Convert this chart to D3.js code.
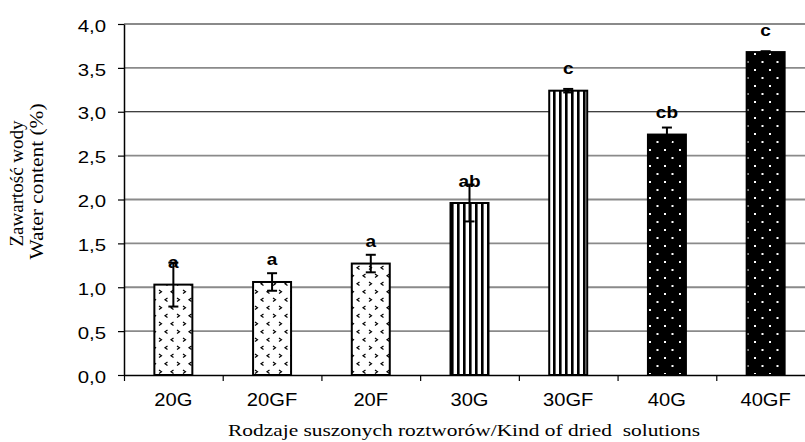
<!DOCTYPE html>
<html>
<head>
<meta charset="utf-8">
<script src="https://cdn.jsdelivr.net/npm/d3@7"></script>
<style>
  html, body { margin: 0; padding: 0; background: #fff; }
  svg { display: block; }
</style>
</head>
<body>
<svg id="chart" width="805" height="442"></svg>
<script>
// Water content of dried solutions, mean ± error with group letters
const categories = ["20G", "20GF", "20F", "30G", "30GF", "40G", "40GF"];
const values     = [1.03, 1.06, 1.27, 1.96, 3.24, 2.74, 3.68];
const errors     = [0.25, 0.10, 0.10, 0.21, 0.02, 0.08, 0.01];
const letters    = ["a", "a", "a", "ab", "c", "cb", "c"];
const series     = ["20", "20", "20", "30", "30", "40", "40"];
const yTicks     = [0, 0.5, 1.0, 1.5, 2.0, 2.5, 3.0, 3.5, 4.0];

const sans = "'Liberation Sans', Arial, sans-serif";
const serif = "'Liberation Serif', 'Times New Roman', serif";

const svg = d3.select("#chart");
const plotLeft = 124, plotRight = 815, plotTop = 24, plotBottom = 375;

const x = d3.scaleBand().domain(categories).range([plotLeft, plotRight])
  .paddingInner(0.595).paddingOuter(0.2975);
const xEdge = d3.scaleLinear().domain([0, categories.length]).range([plotLeft, plotRight]);
const y = d3.scaleLinear().domain([0, 4]).range([plotBottom, plotTop]);

// fill patterns for the three concentration groups
const defs = svg.append("defs");

const pDots = defs.append("pattern").attr("id", "p20")
  .attr("patternUnits", "userSpaceOnUse").attr("width", 24).attr("height", 16);
pDots.append("rect").attr("width", 24).attr("height", 16).attr("fill", "#fff");
const chev = [
  [3, 2, "<"], [15, 2, ">"], [9, 10, ">"], [21, 10, "<"]
];
chev.forEach(([cx, cy, k]) => {
  const d = k === "<"
    ? `M${cx + 2.5},${cy} L${cx},${cy + 1.8} L${cx + 2.5},${cy + 3.6}`
    : `M${cx},${cy} L${cx + 2.5},${cy + 1.8} L${cx},${cy + 3.6}`;
  pDots.append("path").attr("d", d).attr("fill", "none")
    .attr("stroke", "#000").attr("stroke-width", 1.2);
});

const pStripe = defs.append("pattern").attr("id", "p30")
  .attr("patternUnits", "userSpaceOnUse").attr("width", 6).attr("height", 6)
  .attr("x", 1);
pStripe.append("rect").attr("width", 6).attr("height", 6).attr("fill", "#fff");
pStripe.append("rect").attr("x", 0).attr("width", 2.6).attr("height", 6).attr("fill", "#000");

const pBlack = defs.append("pattern").attr("id", "p40")
  .attr("patternUnits", "userSpaceOnUse").attr("width", 15).attr("height", 16)
  .attr("x", 2).attr("y", 2);
pBlack.append("rect").attr("width", 15).attr("height", 16).attr("fill", "#000");
pBlack.append("rect").attr("x", 2).attr("y", 3).attr("width", 2).attr("height", 2).attr("fill", "#fff");
pBlack.append("rect").attr("x", 9.5).attr("y", 11).attr("width", 2).attr("height", 2).attr("fill", "#fff");

// horizontal gridlines
svg.append("g").selectAll("line").data(yTicks.filter(t => t > 0)).join("line")
  .attr("x1", plotLeft).attr("x2", plotRight)
  .attr("y1", d => y(d)).attr("y2", d => y(d))
  .attr("stroke", d => d === 3.0 ? "#000" : "#8a8a8a")
  .attr("stroke-width", d => d === 3.0 ? 1.2 : 1.8);

// bars
const idx = d3.range(categories.length);
svg.append("g").selectAll("rect").data(idx).join("rect")
  .attr("x", i => x(categories[i]) + 1)
  .attr("width", x.bandwidth() - 2)
  .attr("y", i => y(values[i]))
  .attr("height", i => y(0) - y(values[i]))
  .attr("fill", i => `url(#p${series[i]})`)
  .attr("stroke", "#000").attr("stroke-width", 2);

// error bars
const eb = svg.append("g").attr("stroke", "#000").attr("stroke-width", 2);
idx.forEach(i => {
  const cx = x(categories[i]) + x.bandwidth() / 2;
  const lo = y(values[i] - errors[i]), hi = y(values[i] + errors[i]);
  eb.append("line").attr("x1", cx).attr("x2", cx).attr("y1", lo).attr("y2", hi);
  eb.append("line").attr("x1", cx - 5).attr("x2", cx + 5).attr("y1", lo).attr("y2", lo);
  eb.append("line").attr("x1", cx - 5).attr("x2", cx + 5).attr("y1", hi).attr("y2", hi);
});

// group letters
svg.append("g").selectAll("text").data(idx).join("text")
  .attr("transform", i => `translate(${x(categories[i]) + x.bandwidth() / 2},${y(values[i]) - 16.5}) scale(1.12,1)`)
  .attr("text-anchor", "middle")
  .attr("font-family", sans).attr("font-weight", "bold").attr("font-size", 17)
  .text(i => letters[i]);

// y axis
const yAxis = svg.append("g").attr("transform", `translate(${plotLeft},0)`)
  .call(d3.axisLeft(y).tickValues(yTicks).tickSize(6).tickSizeOuter(0)
    .tickFormat(d => d3.format(".1f")(d).replace(".", ",")));
yAxis.select(".domain").attr("stroke-width", 1.5);
yAxis.selectAll(".tick line").attr("stroke-width", 1.2);
yAxis.selectAll(".tick text")
  .attr("x", -18 / 1.2).attr("dy", "0.42em")
  .attr("transform", "scale(1.2,1)")
  .attr("font-family", sans).attr("font-size", 17).attr("fill", "#000");

// x axis: boundary ticks
const xTicksAxis = svg.append("g").attr("transform", `translate(0,${plotBottom})`)
  .call(d3.axisBottom(xEdge).tickValues(d3.range(categories.length + 1))
    .tickSize(6).tickSizeOuter(0).tickFormat(""));
xTicksAxis.select(".domain").attr("stroke-width", 1.5);
xTicksAxis.selectAll(".tick line").attr("stroke-width", 1.2);

// x axis: category labels
const xLabels = svg.append("g").attr("transform", `translate(0,${plotBottom})`)
  .call(d3.axisBottom(x).tickSize(0));
xLabels.select(".domain").remove();
xLabels.selectAll(".tick text")
  .attr("y", 31).attr("dy", 0)
  .attr("transform", "scale(1.12,1)")
  .attr("font-family", sans).attr("font-size", 18).attr("fill", "#000");

// axis titles
svg.append("text")
  .attr("x", 464).attr("y", 436)
  .attr("text-anchor", "middle")
  .style("white-space", "pre")
  .attr("font-family", serif).attr("font-size", 17)
  .attr("textLength", 472).attr("lengthAdjust", "spacingAndGlyphs")
  .text("Rodzaje suszonych roztworów/Kind of dried  solutions");

svg.append("text")
  .attr("transform", "translate(23,183.5) rotate(-90)")
  .attr("text-anchor", "middle")
  .attr("font-family", serif).attr("font-size", 18.5)
  .attr("textLength", 126).attr("lengthAdjust", "spacingAndGlyphs")
  .text("Zawartość wody");

svg.append("text")
  .attr("transform", "translate(43,181.5) rotate(-90)")
  .attr("text-anchor", "middle")
  .attr("font-family", serif).attr("font-size", 18.5)
  .attr("textLength", 156).attr("lengthAdjust", "spacingAndGlyphs")
  .text("Water content (%)");
</script>
</body>
</html>
